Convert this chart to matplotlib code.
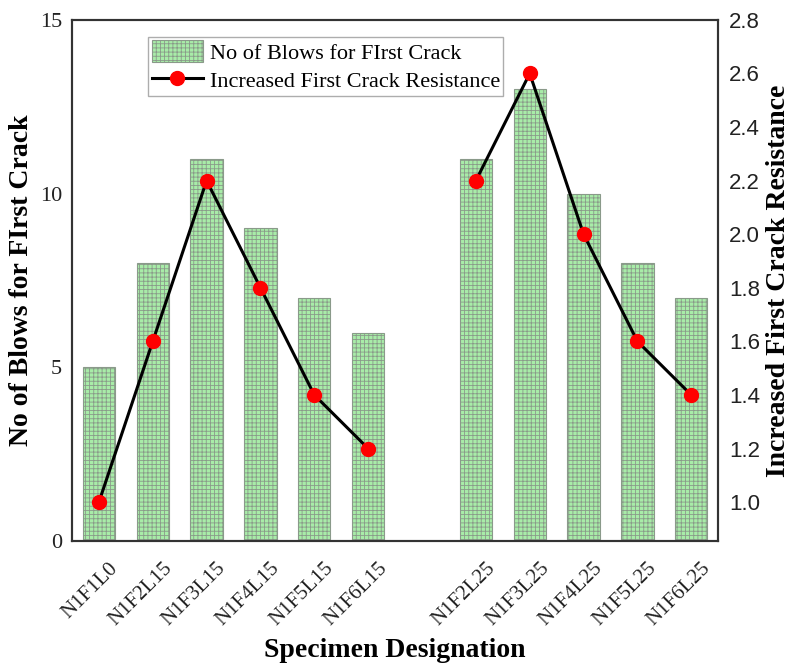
import numpy as np
import matplotlib.pyplot as plt
import matplotlib as mpl
import matplotlib.transforms as mtransforms

# --- data ---
specimens = ["N1F1L0", "N1F2L15", "N1F3L15", "N1F4L15", "N1F5L15", "N1F6L15",
             "", "N1F2L25", "N1F3L25", "N1F4L25", "N1F5L25", "N1F6L25"]
blows = [5, 8, 11, 9, 7, 6, np.nan, 11, 13, 10, 8, 7]
resistance = [1.0, 1.6, 2.2, 1.8, 1.4, 1.2, np.nan, 2.2, 2.6, 2.0, 1.6, 1.4]

mpl.rcParams['hatch.color'] = '#3f5f3f'
mpl.rcParams['hatch.linewidth'] = 0.6

serif = 'Liberation Serif'
sans = 'Liberation Sans'

fig = plt.figure(figsize=(7.91, 6.63), dpi=100)
ax = fig.add_axes([0.091, 0.184, 0.817, 0.786])
x = np.arange(len(specimens))

bars = ax.bar(x, blows, width=0.6, color='#a8eca8', edgecolor='#8a9a8a',
              hatch='++++', linewidth=0.8, label='No of Blows for FIrst Crack')
ax.set_xlim(-0.5, len(specimens) - 0.5)
ax.set_ylim(0, 15)
ax.set_yticks([0, 5, 10, 15])
ax.set_xticks(x)
ax.set_xticklabels(specimens, rotation=45, ha='right', rotation_mode='anchor',
                   fontfamily=serif, fontsize=15, color='#222222')
ax.tick_params(axis='x', length=0, pad=13)
ax.tick_params(axis='y', length=0, pad=7)
# labels in the reference sit a little right of the tick
shift = mtransforms.ScaledTranslation(7 / 72, 0, fig.dpi_scale_trans)
for t in ax.get_xticklabels():
    t.set_transform(t.get_transform() + shift)
for t in ax.get_yticklabels():
    t.set_fontfamily(serif)
    t.set_fontsize(16)
    t.set_color('#222222')
ax.set_ylabel('No of Blows for FIrst Crack', fontfamily=serif, fontsize=20,
              fontweight='bold', labelpad=4)
ax.set_xlabel('Specimen Designation', fontfamily=serif, fontsize=20,
              fontweight='bold', labelpad=6)

ax2 = ax.twinx()
line, = ax2.plot(x, resistance, color='black', lw=2.2, marker='o',
                 markersize=10, markerfacecolor='red', markeredgecolor='red',
                 label='Increased First Crack Resistance')
ax2.set_ylim(0.855, 2.8)
ax2.set_yticks(np.arange(1.0, 2.81, 0.2))
ax2.set_yticklabels([f"{v:.1f}" for v in np.arange(1.0, 2.81, 0.2)],
                    fontfamily=sans, fontsize=16, color='#222222')
ax2.tick_params(length=0, pad=8)
ax2.set_ylabel('Increased First Crack Resistance', fontfamily=serif, fontsize=20,
               fontweight='bold', labelpad=4)

for a in (ax, ax2):
    for s in a.spines.values():
        s.set_linewidth(1.5)
        s.set_color('#333333')

leg = ax.legend([bars, line], [bars.get_label(), line.get_label()],
                loc='upper left', bbox_to_anchor=(0.108, 0.98),
                prop={'family': serif, 'size': 16}, fancybox=False,
                edgecolor='#999999', handlelength=2.3, handleheight=1.1,
                borderpad=0.15, labelspacing=0.25, handletextpad=0.3,
                borderaxespad=0.3)
leg.get_frame().set_linewidth(1.0)

fig.savefig('out.png', dpi=100)
